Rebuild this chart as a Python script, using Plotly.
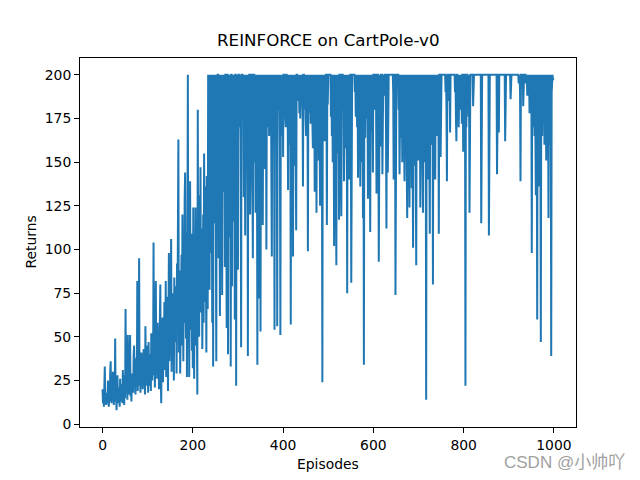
import plotly.graph_objects as go

# Returns per episode (episodes 0..999)
returns_000 = [20, 12, 15, 10, 22, 33, 14, 18, 11, 13,
               16, 12, 25, 14, 10, 19, 13, 30, 36, 15,
               12, 22, 17, 30, 14, 11, 20, 16, 49, 13,
               18, 8, 24, 28, 15, 12, 21, 17, 10, 26,
               14, 19, 13, 23, 12, 31, 16, 20, 11, 28,
               15, 66, 22, 18, 30, 14, 51, 25, 17, 35,
               20, 51, 16, 24, 13, 29, 22, 28, 18, 40,
               45, 21, 30, 17, 26, 38, 23, 82, 19, 33,
               27, 95, 22, 37, 18, 30, 41, 25, 34, 20,
               29, 43, 24, 38, 17, 56, 26, 31, 22, 45]
returns_100 = [33, 18, 47, 27, 40, 22, 36, 19, 52, 30,
               25, 44, 31, 104, 28, 37, 21, 50, 82, 34,
               42, 26, 58, 33, 47, 20, 39, 64, 80, 29,
               12, 45, 35, 61, 24, 53, 38, 70, 31, 48,
               82, 27, 56, 40, 73, 19, 62, 98, 36, 51,
               44, 68, 106, 30, 57, 75, 38, 63, 25, 84,
               47, 70, 55, 79, 29, 92, 60, 112, 163, 41,
               66, 88, 29, 74, 52, 97, 45, 120, 68, 36,
               85, 58, 130, 144, 72, 49, 110, 27, 93, 200,
               61, 118, 27, 78, 139, 54, 88, 109, 42, 75]
returns_200 = [32, 124, 56, 26, 97, 68, 124, 45, 83, 60,
               17, 180, 72, 105, 50, 131, 88, 147, 64, 99,
               112, 43, 78, 120, 58, 155, 92, 70, 136, 84,
               41, 142, 108, 66, 200, 125, 200, 77, 164, 200,
               98, 200, 150, 58, 200, 33, 200, 115, 200, 172,
               200, 86, 36, 200, 138, 200, 200, 95, 200, 160,
               62, 200, 200, 118, 200, 74, 200, 185, 200, 133,
               200, 90, 200, 200, 148, 55, 200, 200, 40, 200,
               107, 200, 162, 200, 33, 200, 200, 79, 200, 116,
               200, 145, 200, 60, 200, 200, 22, 200, 128, 89]
returns_300 = [89, 200, 200, 170, 200, 200, 163, 44, 200, 200,
               200, 185, 200, 130, 200, 200, 108, 200, 200, 155,
               200, 200, 39, 200, 176, 200, 200, 120, 145, 200,
               200, 200, 168, 95, 200, 200, 200, 150, 200, 121,
               200, 180, 188, 34, 200, 170, 136, 72, 200, 185,
               53, 200, 160, 172, 200, 114, 200, 178, 190, 146,
               200, 185, 200, 100, 200, 170, 200, 180, 200, 165,
               175, 200, 182, 200, 160, 96, 200, 175, 160, 200,
               185, 54, 200, 171, 200, 168, 200, 56, 200, 180,
               200, 185, 200, 160, 51, 200, 176, 200, 165, 200]
returns_400 = [153, 200, 200, 182, 200, 175, 170, 200, 200, 185,
               188, 134, 200, 170, 200, 160, 200, 57, 200, 185,
               178, 200, 96, 200, 180, 200, 148, 200, 175, 111,
               200, 200, 185, 192, 200, 200, 178, 200, 175, 200,
               200, 182, 186, 200, 136, 200, 200, 180, 200, 200,
               174, 165, 200, 185, 200, 99, 200, 178, 200, 180,
               200, 172, 179, 200, 188, 170, 158, 200, 170, 200,
               133, 200, 176, 200, 121, 200, 185, 165, 200, 151,
               200, 168, 125, 200, 180, 200, 172, 24, 200, 175,
               200, 190, 162, 200, 178, 200, 200, 114, 200, 183]
returns_500 = [200, 200, 200, 200, 200, 200, 176, 200, 165, 200,
               150, 200, 185, 102, 200, 160, 200, 138, 91, 200,
               172, 200, 155, 200, 117, 200, 200, 200, 145, 119,
               200, 200, 200, 180, 200, 139, 162, 200, 185, 200,
               158, 200, 75, 200, 170, 200, 175, 140, 155, 200,
               200, 81, 200, 200, 200, 200, 200, 200, 200, 190,
               200, 176, 182, 200, 170, 200, 141, 200, 160, 200,
               185, 136, 200, 150, 200, 178, 200, 118, 200, 34,
               200, 180, 164, 200, 175, 175, 200, 190, 129, 200,
               200, 190, 170, 110, 200, 185, 168, 200, 175, 144]
returns_600 = [200, 200, 180, 200, 200, 200, 185, 132, 200, 200,
               200, 175, 93, 200, 200, 180, 159, 200, 200, 200,
               143, 200, 200, 188, 200, 200, 200, 200, 170, 112,
               200, 200, 144, 200, 200, 200, 200, 200, 200, 200,
               200, 200, 200, 200, 190, 140, 200, 200, 200, 74,
               200, 200, 200, 200, 200, 200, 180, 200, 143, 200,
               200, 175, 164, 200, 150, 200, 160, 200, 145, 139,
               200, 155, 200, 168, 130, 118, 200, 145, 200, 160,
               124, 200, 150, 200, 172, 135, 200, 158, 101, 200,
               148, 200, 165, 200, 138, 91, 200, 160, 200, 175]
returns_700 = [151, 200, 170, 200, 124, 185, 200, 160, 200, 145,
               121, 200, 175, 200, 150, 200, 190, 14, 200, 165,
               200, 140, 180, 200, 155, 109, 200, 170, 200, 190,
               160, 200, 80, 200, 175, 200, 150, 140, 200, 185,
               200, 165, 200, 190, 200, 109, 200, 200, 200, 153,
               200, 200, 200, 200, 200, 200, 200, 200, 200, 200,
               190, 200, 180, 139, 200, 200, 185, 200, 200, 200,
               167, 200, 200, 200, 200, 200, 200, 200, 200, 200,
               200, 190, 200, 175, 162, 200, 200, 185, 200, 170,
               200, 200, 180, 200, 188, 200, 172, 200, 200, 156]
returns_800 = [200, 185, 200, 200, 22, 200, 170, 200, 200, 190,
               200, 176, 200, 121, 200, 200, 200, 200, 200, 200,
               200, 182, 200, 200, 200, 200, 200, 200, 200, 200,
               200, 200, 200, 200, 200, 200, 200, 200, 200, 115,
               200, 200, 200, 200, 200, 200, 200, 200, 200, 200,
               200, 200, 200, 200, 200, 200, 108, 200, 200, 200,
               200, 200, 200, 200, 200, 200, 200, 200, 200, 200,
               200, 200, 200, 200, 143, 200, 200, 200, 167, 200,
               200, 200, 200, 200, 200, 200, 200, 200, 200, 200,
               200, 200, 162, 200, 200, 200, 200, 200, 200, 200]
returns_900 = [200, 200, 200, 200, 186, 200, 200, 200, 200, 200,
               200, 200, 200, 200, 200, 200, 200, 200, 200, 200,
               200, 200, 195, 200, 200, 190, 139, 200, 200, 200,
               200, 200, 182, 200, 200, 200, 200, 200, 195, 200,
               200, 188, 200, 200, 192, 200, 178, 200, 200, 185,
               200, 98, 200, 170, 200, 188, 200, 165, 200, 180,
               131, 200, 175, 60, 200, 160, 200, 136, 200, 170,
               190, 47, 200, 180, 165, 200, 185, 175, 200, 160,
               200, 170, 190, 151, 200, 165, 180, 200, 118, 200,
               185, 200, 160, 200, 39, 190, 200, 200, 197, 198]

returns = (returns_000 + returns_100 + returns_200 + returns_300 + returns_400 +
           returns_500 + returns_600 + returns_700 + returns_800 + returns_900)
episodes = list(range(len(returns)))

x_ticks = [0, 200, 400, 600, 800, 1000]
y_ticks = [0, 25, 50, 75, 100, 125, 150, 175, 200]

title_text = "REINFORCE on CartPole-v0"
x_label = "Episodes"
y_label = "Returns"
watermark = "CSDN @小帅吖"

FONT = "DejaVu Sans, Liberation Sans, sans-serif"

fig = go.Figure()
fig.add_trace(go.Scatter(
    x=episodes, y=returns, mode="lines",
    line=dict(color="#1f77b4", width=2),
    hoverinfo="skip", showlegend=False,
))

axis_common = dict(
    showline=True, linecolor="black", linewidth=1, mirror=True,
    ticks="outside", ticklen=5, tickwidth=1, tickcolor="black",
    showgrid=False, zeroline=False,
    tickfont=dict(family=FONT, size=13.9, color="black"),
)

fig.update_layout(
    width=640, height=480,
    margin=dict(l=80, r=64, t=58, b=53),
    paper_bgcolor="white", plot_bgcolor="white",
    xaxis=dict(range=[-49.95, 1048.95], tickvals=x_ticks, **axis_common),
    yaxis=dict(range=[-1.6, 209.6], tickvals=y_ticks, **axis_common),
    annotations=[
        dict(text=title_text, xref="paper", yref="paper", x=0.5, y=1.0,
             xanchor="center", yanchor="bottom", yshift=6, showarrow=False,
             font=dict(family=FONT, size=16.7, color="black")),
        dict(text=x_label, xref="paper", yref="paper", x=0.5, y=0,
             xanchor="center", yanchor="top", yshift=-27, showarrow=False,
             font=dict(family=FONT, size=13.9, color="black")),
        dict(text=y_label, xref="paper", yref="paper", x=0, y=0.5,
             xanchor="right", yanchor="middle", xshift=-40, textangle=-90,
             showarrow=False,
             font=dict(family=FONT, size=13.9, color="black")),
        dict(text=watermark, xref="paper", yref="paper", x=1, y=0,
             xanchor="right", yanchor="top", xshift=51, yshift=-24,
             showarrow=False,
             font=dict(family="Liberation Sans, Noto Sans CJK SC, sans-serif",
                       size=17, color="#a0a0a0")),
    ],
)

fig.write_html("out.html")
